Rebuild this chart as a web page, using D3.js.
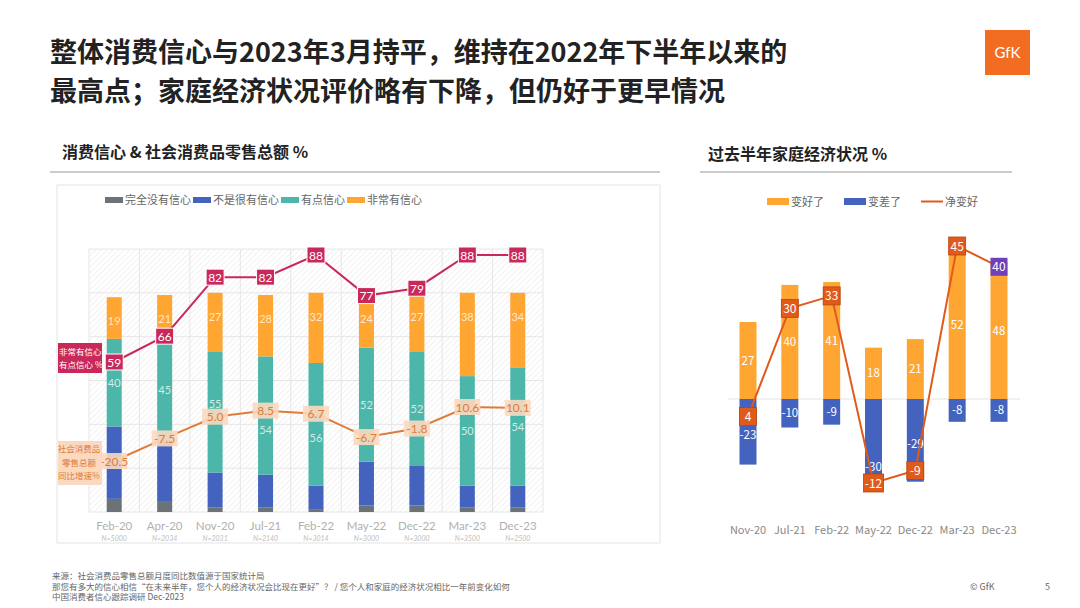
<!DOCTYPE html>
<html><head><meta charset="utf-8">
<script src="https://cdn.jsdelivr.net/npm/d3@7/dist/d3.min.js"></script>
<style>body{margin:0;background:#fff;font-family:"Noto Sans CJK SC","Noto Sans",sans-serif}</style>
</head><body><svg id="c" width="1080" height="608"></svg>
<script>
const categories=["Feb-20","Apr-20","Nov-20","Jul-21","Feb-22","May-22","Dec-22","Mar-23","Dec-23"];
const sampleN=["N=5000","N=2034","N=2031","N=2140","N=3014","N=3000","N=3000","N=3500","N=2500"];
const noConf=[6,5,2,2,1,3,3,2,2];
const notVery=[33,28,16,15,11,20,18,10,10];
const some=[40,45,55,54,56,52,52,50,54];
const very=[19,21,27,28,32,24,27,38,34];
const confTotal=[59,66,82,82,88,77,79,88,88];
const retail=[-20.5,-7.5,5.0,8.5,6.7,-6.7,-1.8,10.6,10.1];
const rCats=["Nov-20","Jul-21","Feb-22","May-22","Dec-22","Mar-23","Dec-23"];
const better=[27,40,41,18,21,52,48];
const worse=[-23,-10,-9,-30,-29,-8,-8];
const net=[4,30,33,-12,-9,45,40];

const svg=d3.select("#c");
const F='"Noto Sans CJK SC",sans-serif';
const C={gray:"#6b7378",blue:"#4363bf",teal:"#4db6aa",orange:"#ffa531",pink:"#c8285a",ret:"#e07b39",peach:"#fbd9c0",net:"#e05a1a"};
svg.append("text").attr("x",50).attr("y",62).attr("font-size",27).attr("font-weight",700).attr("fill","#222").attr("font-family",F).text("整体消费信心与2023年3月持平，维持在2022年下半年以来的");
svg.append("text").attr("x",50).attr("y",101).attr("font-size",27).attr("font-weight",700).attr("fill","#222").attr("font-family",F).text("最高点；家庭经济状况评价略有下降，但仍好于更早情况");
svg.append("rect").attr("x",985).attr("y",30).attr("width",45).attr("height",45).attr("fill","#f26c21");
svg.append("text").attr("x",1007.5).attr("y",58).attr("text-anchor","middle").attr("font-size",15).attr("fill","#fff").attr("font-family","Lato,sans-serif").text("GfK");
svg.append("text").attr("x",62).attr("y",158).attr("font-size",16).attr("font-weight",700).attr("fill","#222").attr("font-family",F).text("消费信心 & 社会消费品零售总额 %");
svg.append("line").attr("x1",50).attr("x2",660).attr("y1",172).attr("y2",172).attr("stroke","#999");
svg.append("text").attr("x",708).attr("y",160).attr("font-size",16).attr("font-weight",700).attr("fill","#222").attr("font-family",F).text("过去半年家庭经济状况 %");
svg.append("line").attr("x1",700).attr("x2",1012).attr("y1",172).attr("y2",172).attr("stroke","#999");
svg.append("rect").attr("x",57).attr("y",185).attr("width",603).attr("height",358).attr("fill","none").attr("stroke","#e3e3e3");

const defs=svg.append("defs");
const p=defs.append("pattern").attr("id","h").attr("width",4).attr("height",4).attr("patternUnits","userSpaceOnUse").attr("patternTransform","rotate(45)");
p.append("line").attr("x1",0).attr("y1",0).attr("x2",0).attr("y2",4).attr("stroke","#ececec").attr("stroke-width",1.5);

const L={x0:89,x1:543,y0:512,y1:249};
const x=d3.scaleBand().domain(categories).range([L.x0,L.x1]);
const y=d3.scaleLinear().domain([0,120]).range([L.y0,L.y1]);
const yP=d3.scaleLinear().domain([59,88]).range([362,255]);
const yR=d3.scaleLinear().domain([-20.5,10.6]).range([461,407]);
svg.append("rect").attr("x",L.x0).attr("y",L.y1).attr("width",L.x1-L.x0).attr("height",L.y0-L.y1).attr("fill","url(#h)");
y.ticks(4).forEach(t=>svg.append("line").attr("x1",L.x0).attr("x2",L.x1).attr("y1",y(t)).attr("y2",y(t)).attr("stroke","#e6e6e6"));
categories.forEach(c=>svg.append("line").attr("x1",x(c)).attr("x2",x(c)).attr("y1",L.y1).attr("y2",L.y0).attr("stroke","#e6e6e6"));
svg.append("line").attr("x1",L.x1).attr("x2",L.x1).attr("y1",L.y1).attr("y2",L.y0).attr("stroke","#e6e6e6");
const series=[[noConf,C.gray],[notVery,C.blue],[some,C.teal],[very,C.orange]];
const bw=15;
categories.forEach((c,i)=>{
  let acc=0;const cx=x(c)+x.bandwidth()/2;
  series.forEach(([arr,col],k)=>{
    const v=arr[i];
    svg.append("rect").attr("x",cx-bw/2).attr("width",bw).attr("y",y(acc+v)).attr("height",y(acc)-y(acc+v)).attr("fill",col);
    if(k>=2){const ty=k==3?y(acc+v)+28:(y(acc)+y(acc+v))/2+4+(i>=3&&i<=4?14:i==2?-8:0);
      svg.append("text").attr("x",cx).attr("y",ty).attr("text-anchor","middle").attr("font-size",11).attr("fill","#fff").attr("fill-opacity",0.75).attr("font-family","Lato,sans-serif").text(v);}
    acc+=v;
  });
  svg.append("text").attr("x",cx).attr("y",530).attr("text-anchor","middle").attr("font-size",11.5).attr("font-weight",400).attr("fill","#b0b0b0").attr("font-family","Lato,sans-serif").text(c);
  svg.append("text").attr("x",cx).attr("y",541).attr("text-anchor","middle").attr("font-size",7).attr("font-style","italic").attr("fill","#c0c0c0").attr("font-family","Lato,sans-serif").text(sampleN[i]);
});
const cxs=categories.map(c=>x(c)+x.bandwidth()/2);
svg.append("path").attr("d",d3.line()(cxs.map((cx,i)=>[cx,yR(retail[i])]))).attr("fill","none").attr("stroke",C.ret).attr("stroke-width",2);
svg.append("path").attr("d",d3.line()(cxs.map((cx,i)=>[cx,yP(confTotal[i])]))).attr("fill","none").attr("stroke",C.pink).attr("stroke-width",2);
cxs.forEach((cx,i)=>{
  svg.append("rect").attr("x",cx-13).attr("y",yR(retail[i])-8).attr("width",26).attr("height",16).attr("fill",C.peach).attr("opacity",0.9);
  svg.append("text").attr("x",cx).attr("y",yR(retail[i])+4.5).attr("text-anchor","middle").attr("font-size",12).attr("fill",C.ret).attr("font-family","Lato,sans-serif").text(retail[i].toFixed(1));
  svg.append("rect").attr("x",cx-9).attr("y",yP(confTotal[i])-8).attr("width",18).attr("height",16).attr("fill",C.pink).attr("stroke","#fff");
  svg.append("text").attr("x",cx).attr("y",yP(confTotal[i])+4.5).attr("text-anchor","middle").attr("font-size",12).attr("fill","#fff").attr("font-family","Lato,sans-serif").text(confTotal[i]);
});
svg.append("rect").attr("x",58).attr("y",343).attr("width",44).attr("height",30).attr("fill",C.pink);
svg.append("text").attr("x",59).attr("y",355).attr("font-size",8.5).attr("fill","#fff").attr("font-family",F).text("非常有信心+");
svg.append("text").attr("x",59).attr("y",368).attr("font-size",8.5).attr("fill","#fff").attr("font-family",F).text("有点信心 %");
svg.append("rect").attr("x",58).attr("y",441).attr("width",44).attr("height",44).attr("fill",C.peach);
["社会消费品","零售总额","同比增速%"].forEach((t,k)=>svg.append("text").attr("x",79).attr("y",452+k*13.5).attr("text-anchor","middle").attr("font-size",8.5).attr("fill",C.ret).attr("font-family",F).text(t));
const lg=[["完全没有信心",C.gray],["不是很有信心",C.blue],["有点信心",C.teal],["非常有信心",C.orange]];
let lx=105;
lg.forEach(([t,c])=>{svg.append("rect").attr("x",lx).attr("y",197).attr("width",18).attr("height",6).attr("fill",c);
  svg.append("text").attr("x",lx+20).attr("y",204).attr("font-size",11).attr("fill","#666").attr("font-family",F).text(t);
  lx+=20+t.length*11+2;});

const rx=d3.scalePoint().domain(rCats).range([748,999]);
const ry=d3.scaleLinear().domain([0,27]).range([399,322]);
const rn=d3.scaleLinear().domain([-12,45]).range([483,246]);
svg.append("line").attr("x1",728).attr("x2",1020).attr("y1",ry(0)).attr("y2",ry(0)).attr("stroke","#e3e3e3");
rCats.forEach((c,i)=>{
  const cx=rx(c);
  svg.append("rect").attr("x",cx-8.5).attr("width",17).attr("y",ry(better[i])).attr("height",ry(0)-ry(better[i])).attr("fill",C.orange);
  svg.append("rect").attr("x",cx-8.5).attr("width",17).attr("y",ry(0)).attr("height",ry(worse[i])-ry(0)).attr("fill",C.blue);
  svg.append("text").attr("x",cx).attr("y",(ry(better[i])+ry(0))/2+4).attr("text-anchor","middle").attr("font-size",11.5).attr("fill","#fff").attr("font-family",F).text(better[i]);
  const wy=worse[i]<-20?ry(worse[i]*(i==3?0.8:0.55))+4:(ry(0)+ry(worse[i]))/2+4;
  svg.append("text").attr("x",cx).attr("y",wy).attr("text-anchor","middle").attr("font-size",11.5).attr("fill","#fff").attr("font-family",F).text(worse[i]);
  svg.append("text").attr("x",cx).attr("y",534).attr("text-anchor","middle").attr("font-size",11).attr("fill","#888").attr("font-family",F).text(c);
});
svg.append("path").attr("d",d3.line()(rCats.map((c,i)=>[rx(c),rn(net[i])]))).attr("fill","none").attr("stroke",C.net).attr("stroke-width",2);
rCats.forEach((c,i)=>{
  const w=String(net[i]).length>2?20:17;const cx=rx(c);
  svg.append("rect").attr("x",cx-w/2).attr("y",rn(net[i])-9).attr("width",w).attr("height",18).attr("fill",i==6?"#7040b8":C.net).attr("stroke",i==6?"none":"#b84410").attr("stroke-width",0.8);
  svg.append("text").attr("x",cx).attr("y",rn(net[i])+4.5).attr("text-anchor","middle").attr("font-size",12).attr("fill","#fff").attr("font-family",F).text(net[i]);
});
const rl=[["变好了",C.orange,"r"],["变差了",C.blue,"r"],["净变好",C.net,"l"]];
let rlx=767;
rl.forEach(([t,c,k])=>{
  if(k=="r") svg.append("rect").attr("x",rlx).attr("y",198).attr("width",22).attr("height",7).attr("fill",c);
  else svg.append("line").attr("x1",rlx).attr("x2",rlx+22).attr("y1",201.5).attr("y2",201.5).attr("stroke",c).attr("stroke-width",2);
  svg.append("text").attr("x",rlx+24).attr("y",206).attr("font-size",11).attr("fill","#666").attr("font-family",F).text(t);
  rlx+=77;
});
["来源：社会消费品零售总额月度同比数值源于国家统计局","那您有多大的信心相信“在未来半年，您个人的经济状况会比现在更好”？ / 您个人和家庭的经济状况相比一年前变化如何","中国消费者信心跟踪调研 Dec-2023"].forEach((t,k)=>svg.append("text").attr("x",52).attr("y",579+k*10.5).attr("font-size",8.5).attr("fill","#666").attr("font-family",F).text(t));
svg.append("text").attr("x",970).attr("y",590).attr("font-size",9).attr("fill","#666").attr("font-family",F).text("© GfK");
svg.append("text").attr("x",1045).attr("y",590).attr("font-size",9).attr("fill","#666").attr("font-family",F).text("5");
</script></body></html>
